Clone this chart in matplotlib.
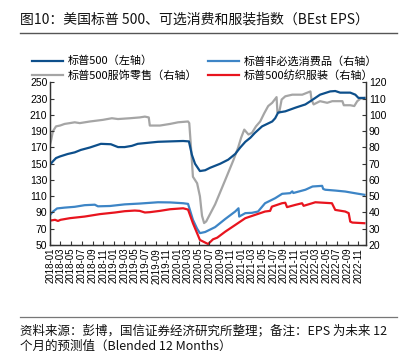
import matplotlib
matplotlib.use("Agg")
import matplotlib.pyplot as plt
import matplotlib.dates as mdates
from matplotlib.lines import Line2D
import pandas as pd

plt.rcParams['font.family'] = ['Noto Sans CJK SC', 'DejaVu Sans']

# 标普500（左轴）
spx_dates = ["2018-01-01", "2018-01-17", "2018-02-04", "2018-02-27", "2018-04-12", "2018-05-22",
             "2018-06-26", "2018-08-17", "2018-10-19", "2018-12-15", "2019-01-25", "2019-03-04",
             "2019-04-14", "2019-05-18", "2019-07-26", "2019-09-11", "2019-11-19", "2020-02-02",
             "2020-03-06", "2020-03-23", "2020-04-10", "2020-05-08", "2020-06-07", "2020-07-05",
             "2020-09-01", "2020-10-17", "2020-11-26", "2020-12-25", "2021-01-23", "2021-02-21",
             "2021-03-19", "2021-04-29", "2021-06-26", "2021-07-13", "2021-07-30", "2021-09-09",
             "2021-11-06", "2022-01-02", "2022-01-31", "2022-03-27", "2022-05-24", "2022-06-22",
             "2022-07-20", "2022-09-16", "2022-10-15", "2022-11-02", "2022-12-06"]
spx_eps = [149, 153, 157, 159, 162, 164,
           167, 170, 174.5, 174, 170.5, 170.5,
           172, 174.5, 176, 177, 177.5, 178,
           177.5, 161, 150, 141, 142, 145,
           150, 155, 162, 170, 177, 182,
           188, 196, 202, 206, 213, 214.5,
           219, 223, 227, 235, 239, 239.5,
           237.5, 237.5, 235, 231, 231]

# 标普非必选消费品（右轴）
cd_dates = ["2018-01-01", "2018-01-17", "2018-02-10", "2018-03-25", "2018-05-22", "2018-07-18",
            "2018-09-14", "2018-10-02", "2018-12-10", "2019-03-04", "2019-05-29", "2019-09-11",
            "2019-11-19", "2020-02-02", "2020-03-01", "2020-03-29", "2020-04-22", "2020-05-08",
            "2020-06-07", "2020-08-03", "2020-09-30", "2020-11-26", "2020-12-15", "2020-12-19",
            "2021-01-23", "2021-03-02", "2021-04-06", "2021-05-16", "2021-07-13", "2021-08-22",
            "2021-10-07", "2021-10-19", "2021-10-25", "2022-01-02", "2022-02-12", "2022-04-08",
            "2022-04-14", "2022-04-26", "2022-06-22", "2022-08-18", "2022-11-02", "2022-12-06"]
cd_eps = [38.5, 40.5, 42.5, 43, 43.5, 44.5,
          44.8, 43.8, 44, 45, 45.5, 46.3,
          46.2, 45.7, 45.3, 35.5, 30, 27.3,
          28, 31, 36, 40.6, 42.6, 37.5,
          39.6, 39.8, 40.6, 45.7, 48.8, 51.5,
          51.9, 53, 52, 54, 56, 56.4,
          54.5, 54, 53.5, 52.9, 51.5, 50.9]

# 标普500服饰零售（右轴）
retail_dates = ["2018-01-01", "2018-01-06", "2018-01-17", "2018-02-04", "2018-02-27", "2018-03-25",
                "2018-04-24", "2018-05-22", "2018-06-20", "2018-08-17", "2018-10-30", "2018-12-21",
                "2019-01-25", "2019-04-03", "2019-05-29", "2019-06-28", "2019-07-20", "2019-07-26",
                "2019-09-22", "2019-11-19", "2020-01-04", "2020-03-01", "2020-03-08", "2020-03-18",
                "2020-03-29", "2020-04-22", "2020-05-08", "2020-05-20", "2020-06-01", "2020-06-13",
                "2020-08-03", "2020-09-30", "2020-11-15", "2020-12-13", "2020-12-30", "2021-01-17",
                "2021-02-10", "2021-03-02", "2021-03-25", "2021-04-18", "2021-05-11", "2021-06-03",
                "2021-06-26", "2021-07-21", "2021-07-26", "2021-08-05", "2021-08-19", "2021-09-09",
                "2021-10-19", "2021-12-15", "2022-01-19", "2022-01-31", "2022-02-06", "2022-02-18",
                "2022-03-27", "2022-05-07", "2022-06-05", "2022-08-02", "2022-08-10", "2022-09-16",
                "2022-10-09", "2022-10-26", "2022-11-13", "2022-12-06"]
retail_eps = [82, 84, 90, 93, 93.5, 94.5,
              95, 95.5, 95, 96, 97, 98,
              97.5, 98, 98.5, 99, 98.5, 93.5,
              93.5, 94.5, 95.5, 96, 95, 80,
              62, 58, 50, 38, 33.5, 34.5,
              45, 60, 72, 80, 86, 91,
              88, 89, 93, 96, 101, 105.5,
              107.5, 111, 101.5, 101.5, 109.5, 111.5,
              112.5, 112.5, 114, 114.5, 109.5, 106.5,
              108.5, 107.5, 108.5, 108.5, 106, 106,
              105.5, 108.5, 110, 110.5]

# 标普500纺织服装（右轴）
textile_dates = ["2018-01-01", "2018-01-29", "2018-02-15", "2018-03-02", "2018-04-24", "2018-07-18",
                 "2018-10-13", "2019-01-08", "2019-03-04", "2019-05-01", "2019-05-29", "2019-06-28",
                 "2019-07-26", "2019-09-22", "2019-11-19", "2020-02-02", "2020-03-01", "2020-03-29",
                 "2020-05-08", "2020-06-24", "2020-07-22", "2020-08-15", "2020-09-30", "2020-11-26",
                 "2021-01-23", "2021-03-19", "2021-05-16", "2021-06-14", "2021-06-24", "2021-08-21",
                 "2021-09-09", "2021-09-19", "2021-11-06", "2021-12-14", "2021-12-23", "2022-02-10",
                 "2022-02-28", "2022-06-03", "2022-06-22", "2022-08-18", "2022-09-07", "2022-09-16",
                 "2022-09-28", "2022-12-06"]
textile_eps = [35, 35.5, 34.8, 35.5, 36.5, 37.5,
               39, 40, 40.8, 41.2, 41, 40,
               40.2, 41, 42, 42.6, 41.8, 33.4,
               23.1, 20.6, 23.5, 24.5, 28.2, 32.3,
               36.5, 38.5, 40.6, 41, 43.6, 45.7,
               46, 43.3, 44.7, 45.7, 44.1, 45.7,
               46.3, 45.7, 41.6, 40.6, 39.6, 34.4,
               33.8, 33.4]

left_ticks = list(range(50, 251, 20))
right_ticks = list(range(20, 121, 10))

fig = plt.figure(figsize=(4.06, 3.51), dpi=100)
ax = fig.add_axes([0.1234, 0.302, 0.778, 0.463])
ax2 = ax.twinx()

l1, = ax.plot(pd.to_datetime(spx_dates), spx_eps, color="#0d4f8b", lw=1.6)
l2, = ax2.plot(pd.to_datetime(cd_dates), cd_eps, color="#3d85c6", lw=1.6)
l3, = ax2.plot(pd.to_datetime(retail_dates), retail_eps, color="#a5a5a5", lw=1.6)
l4, = ax2.plot(pd.to_datetime(textile_dates), textile_eps, color="#e8141e", lw=1.6)
ax.set_zorder(ax2.get_zorder() + 1)
ax.patch.set_visible(False)

ax.set_ylim(50, 250)
ax.set_yticks(left_ticks)
ax2.set_ylim(20, 120)
ax2.set_yticks(right_ticks)
ax.set_xlim(pd.Timestamp("2018-01-01"), pd.Timestamp("2022-12-15"))
ax.xaxis.set_major_locator(mdates.MonthLocator(bymonth=[1, 3, 5, 7, 9, 11]))
ax.xaxis.set_major_formatter(mdates.DateFormatter("%Y-%m"))

for a in (ax, ax2):
    a.spines["top"].set_visible(False)
    for s in ("left", "right", "bottom"):
        a.spines[s].set_color("#333333")
        a.spines[s].set_linewidth(0.9)
    a.tick_params(direction="in", length=3, width=0.8, color="#333333", labelsize=7.5, pad=2)
    for lab in a.get_yticklabels():
        lab.set_family(["Liberation Sans", "DejaVu Sans"])
ax.tick_params(axis="x", labelsize=7, labelrotation=90, pad=2)
for lab in ax.get_xticklabels():
    lab.set_family(["Liberation Sans", "DejaVu Sans"])

fig.legend([l1, l3, l2, l4],
           ["标普500（左轴）", "标普500服饰零售（右轴）", "标普非必选消费品（右轴）", "标普500纺织服装（右轴）"],
           ncol=2, loc="center left", bbox_to_anchor=(0.079, 0.805), frameon=False, fontsize=8,
           handlelength=2.8, handletextpad=0.45, columnspacing=0.9, labelspacing=0.35,
           borderpad=0, borderaxespad=0)

fig.text(0.05, 1 - 20 / 351, "图10：美国标普 500、可选消费和服装指数（BEst EPS）",
         fontsize=10, va="center", ha="left", color="#111111")
fig.add_artist(Line2D([20 / 406, 397 / 406], [1 - 33 / 351, 1 - 33 / 351], color="#555555", lw=1))
fig.add_artist(Line2D([20 / 406, 397 / 406], [1 - 317 / 351, 1 - 317 / 351], color="#777777", lw=0.9))
fig.text(0.05, 1 - 331 / 351, "资料来源：彭博，国信证券经济研究所整理；备注：EPS 为未来 12",
         fontsize=9, va="center", ha="left", color="#111111")
fig.text(0.05, 1 - 346 / 351, "个月的预测值（Blended 12 Months）",
         fontsize=9, va="center", ha="left", color="#111111")

fig.savefig("out.png", dpi=100)
